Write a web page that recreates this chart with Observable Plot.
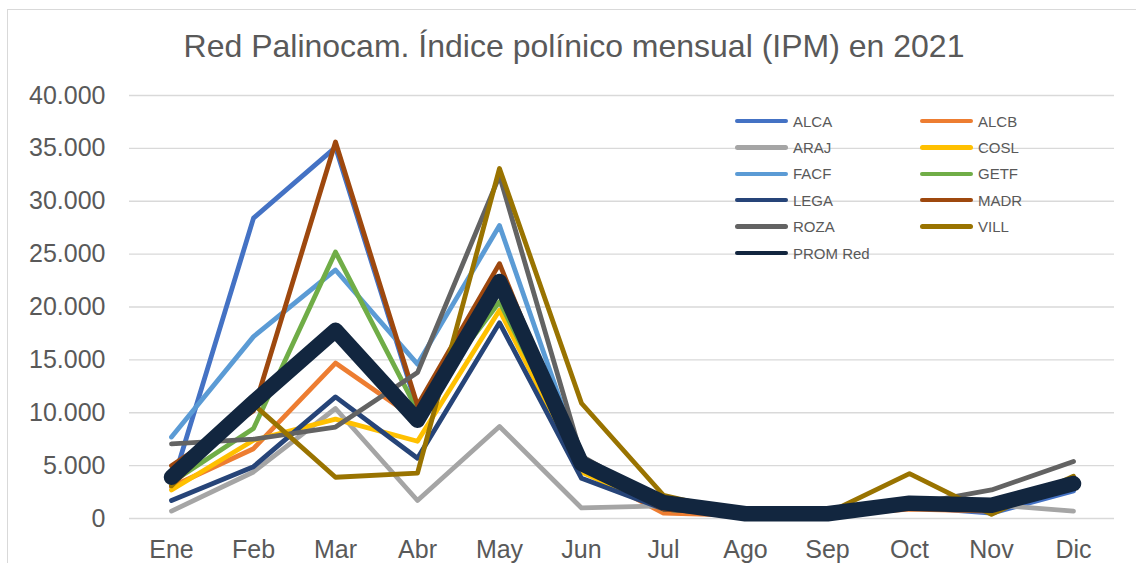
<!DOCTYPE html>
<html>
<head>
<meta charset="utf-8">
<script src="https://cdn.jsdelivr.net/npm/d3@7"></script>
<script src="https://cdn.jsdelivr.net/npm/@observablehq/plot@0.6"></script>
<style>
  html, body { margin: 0; padding: 0; background: #fff; }
  #wrap { position: relative; width: 1136px; height: 563px; overflow: hidden; font-family: "Liberation Sans", Arial, sans-serif; color: #595959; }
  #frame { position: absolute; left: 7px; top: 9px; width: 1200px; height: 700px; border-top: 1px solid #d9d9d9; border-left: 1px solid #d9d9d9; }
  #title { position: absolute; left: 0; width: 1148px; top: 28px; text-align: center; font-size: 32px; white-space: nowrap; }
  #chart { position: absolute; left: 0; top: 0; }
  #legend { position: absolute; left: 0; top: 0; }
  .lg { position: absolute; display: flex; align-items: center; font-size: 15px; white-space: nowrap; }
  .sw { width: 53px; height: 4.5px; border-radius: 3px; margin-right: 5px; }
</style>
</head>
<body>
<div id="wrap">
  <div id="frame"></div>
  <div id="chart"></div>
  <div id="title">Red Palinocam. Índice polínico mensual (IPM) en 2021</div>
  <div id="legend"></div>
</div>
<script>
const months = ["Ene","Feb","Mar","Abr","May","Jun","Jul","Ago","Sep","Oct","Nov","Dic"];
const seriesNames = ["ALCA","ALCB","ARAJ","COSL","FACF","GETF","LEGA","MADR","ROZA","VILL","PROM Red"];
const seriesColors = ["#4472C4","#ED7D31","#A5A5A5","#FFC000","#5B9BD5","#70AD47","#264478","#9E480E","#636363","#997300","#12263F"];

const ALCA = [3000, 28400, 35100, 10400, 21500, 4500, 700, 350, 300, 1100, 500, 2600];
const ALCB = [3000, 6600, 14700, 9300, 21500, 4600, 500, 300, 300, 900, 700, 3000];
const ARAJ = [700, 4400, 10400, 1700, 8700, 1000, 1200, 400, 350, 1200, 1300, 700];
const COSL = [2700, 7400, 9400, 7300, 19700, 4400, 900, 350, 350, 1200, 900, 3600];
const FACF = [7700, 17200, 23500, 14600, 27700, 5400, 900, 350, 350, 1200, 800, 3900];
const GETF = [3400, 8500, 25200, 10200, 20500, 5000, 900, 350, 350, 1200, 1000, 3300];
const LEGA = [1700, 4900, 11500, 5700, 18500, 3800, 900, 350, 350, 1200, 900, 3000];
const MADR = [5000, 10200, 35600, 10700, 24100, 5000, 900, 350, 350, 1200, 1000, 3300];
const ROZA = [7050, 7500, 8650, 13800, 32400, 5900, 1500, 400, 400, 1300, 2700, 5400];
const VILL = [3100, 10800, 3900, 4300, 33100, 10900, 2200, 400, 500, 4250, 400, 4000];
const PROM = [3900, 11000, 17800, 9300, 22400, 5200, 1500, 450, 450, 1450, 1250, 3300];

const yTicks = [0, 5000, 10000, 15000, 20000, 25000, 30000, 35000, 40000];

const stationValues = [ALCA, ALCB, ARAJ, COSL, FACF, GETF, LEGA, MADR, ROZA, VILL];
const stations = [];
stationValues.forEach((vals, i) => {
  vals.forEach((v, j) => stations.push({series: seriesNames[i], month: months[j], value: v}));
});
const prom = PROM.map((v, j) => ({series: "PROM Red", month: months[j], value: v}));

const loc = d3.formatLocale({decimal: ",", thousands: ".", grouping: [3], currency: ["", ""]});
const fmt = loc.format(",d");

const chart = Plot.plot({
  width: 1136,
  height: 563,
  marginLeft: 129,
  marginRight: 22,
  marginTop: 95,
  marginBottom: 45,
  style: {fontFamily: "Liberation Sans, Arial, sans-serif", color: "#595959", background: "transparent", overflow: "visible"},
  x: {type: "point", domain: months, padding: 0.5},
  y: {domain: [0, 40000]},
  color: {domain: seriesNames, range: seriesColors},
  marks: [
    Plot.gridY(yTicks, {stroke: "#d9d9d9", strokeOpacity: 1, strokeWidth: 1.3}),
    Plot.axisY(yTicks, {tickSize: 0, tickPadding: 24, tickFormat: fmt, fontSize: 25, label: null}),
    Plot.axisX({tickSize: 0, tickPadding: 22, fontSize: 25, label: null}),
    Plot.line(stations, {x: "month", y: "value", z: "series", stroke: "series", strokeWidth: 4.8, strokeLinejoin: "round", strokeLinecap: "round"}),
    Plot.line(prom, {x: "month", y: "value", z: "series", stroke: "series", strokeWidth: 15.5, strokeLinejoin: "round", strokeLinecap: "round"})
  ]
});
document.getElementById("chart").appendChild(chart);

// legend
const legend = document.getElementById("legend");
seriesNames.forEach((name, i) => {
  const col = i % 2, row = Math.floor(i / 2);
  const el = document.createElement("div");
  el.className = "lg";
  el.style.left = (col === 0 ? 735 : 920) + "px";
  el.style.top = (121 + row * 26.4 - 9) + "px";
  el.style.height = "18px";
  const sw = document.createElement("div");
  sw.className = "sw";
  sw.style.background = seriesColors[i];
  const tx = document.createElement("span");
  tx.textContent = name;
  el.appendChild(sw);
  el.appendChild(tx);
  legend.appendChild(el);
});
</script>
</body>
</html>
